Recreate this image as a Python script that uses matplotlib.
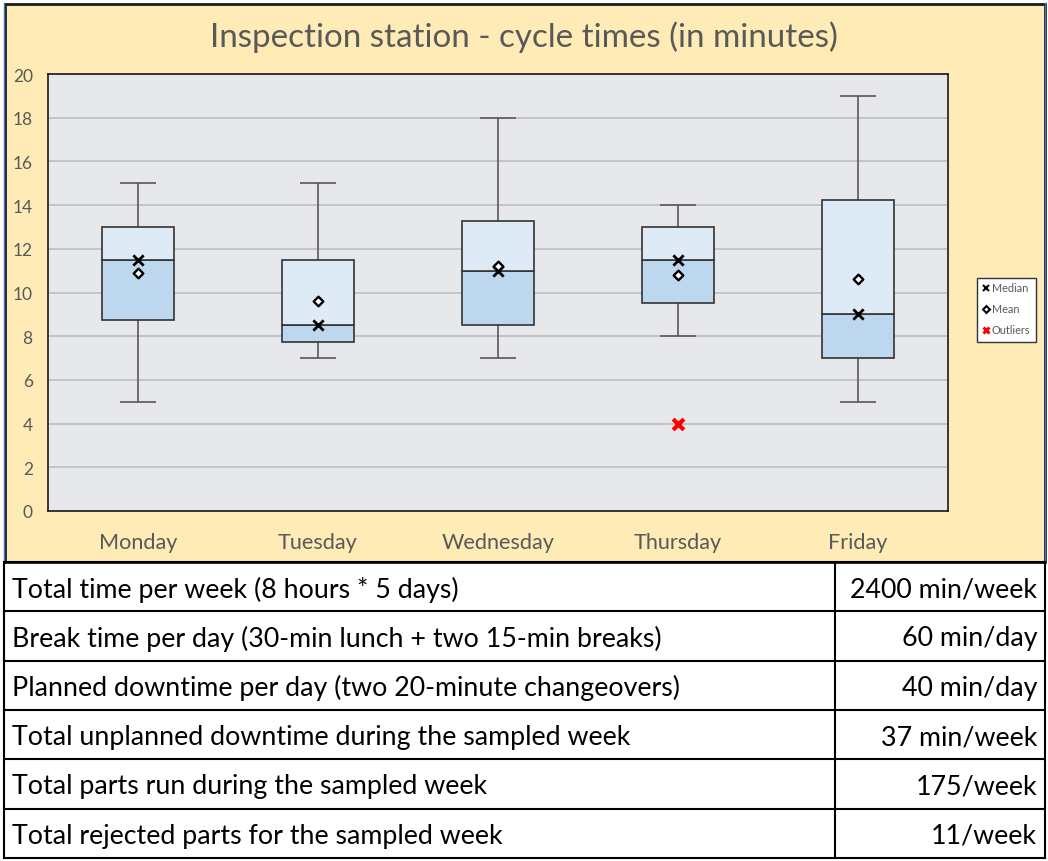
import matplotlib; matplotlib.use("Agg")
import matplotlib.pyplot as plt
from matplotlib.patches import Rectangle
from matplotlib.lines import Line2D

plt.rcParams["font.family"] = ["Lato", "DejaVu Sans"]

# box plot data (minutes)
days = ["Monday", "Tuesday", "Wednesday", "Thursday", "Friday"]
whisk_lo = [5, 7, 7, 8, 5]
q1 = [8.75, 7.75, 8.5, 9.5, 7]
median = [11.5, 8.5, 11, 11.5, 9]
q3 = [13, 11.5, 13.25, 13, 14.25]
whisk_hi = [15, 15, 18, 14, 19]
mean = [10.9, 9.6, 11.2, 10.8, 10.6]
outlier_day = [4]
outlier_val = [4]

# table below the chart
row_labels = ["Total time per week (8 hours * 5 days)",
              "Break time per day (30-min lunch + two 15-min breaks)",
              "Planned downtime per day (two 20-minute changeovers)",
              "Total unplanned downtime during the sampled week",
              "Total parts run during the sampled week",
              "Total rejected parts for the sampled week"]
row_values = ["2400 min/week", "60 min/day", "40 min/day", "37 min/week", "175/week", "11/week"]

W, H = 1048, 862
fig = plt.figure(figsize=(W / 100, H / 100), dpi=100)
fig.patch.set_facecolor("white")

def fx(px): return px / W
def fy(py): return 1 - py / H

# yellow chart area
fig.patches.append(Rectangle((fx(5), fy(563)), fx(1040), 558 / H, transform=fig.transFigure,
                             facecolor="#FFEBB5", edgecolor="#1a1a1a", linewidth=2, zorder=0))
fig.lines.append(Line2D([fx(4), fx(4)], [fy(4), fy(563)], transform=fig.transFigure, color="#4472C4", lw=1))
fig.lines.append(Line2D([fx(1045), fx(1045)], [fy(4), fy(563)], transform=fig.transFigure, color="#4472C4", lw=1))

ax = fig.add_axes([fx(48), fy(512), (948 - 48) / W, (512 - 75) / H])
ax.set_zorder(2)
ax.set_facecolor("#E6E8EC")
for s in ax.spines.values():
    s.set_color("#1a1a1a"); s.set_linewidth(1.2)
ax.set_xlim(0.5, 5.5); ax.set_ylim(0, 20)
ax.set_yticks(range(0, 21, 2))
ax.yaxis.grid(True, color="#BDBDBD", linewidth=1.2)
ax.set_axisbelow(True)
ax.tick_params(length=0, colors="#595959")
ax.tick_params(axis="y", labelsize=12.5, pad=11)
ax.tick_params(axis="x", labelsize=15.6, pad=15)
ax.set_xticks(range(1, 6)); ax.set_xticklabels(days)

x = list(range(1, 6))
ax.vlines(x, whisk_lo, q1, color="#595959", lw=1.2, zorder=2)
ax.vlines(x, q3, whisk_hi, color="#595959", lw=1.2, zorder=2)
ax.hlines(whisk_lo, [i - 0.1 for i in x], [i + 0.1 for i in x], color="#595959", lw=1.2, zorder=2)
ax.hlines(whisk_hi, [i - 0.1 for i in x], [i + 0.1 for i in x], color="#595959", lw=1.2, zorder=2)
ax.bar(x, [m - a for m, a in zip(median, q1)], bottom=q1, width=0.4, color="#BDD7EE",
       edgecolor="#333333", linewidth=1.2, zorder=3)
ax.bar(x, [b - m for b, m in zip(q3, median)], bottom=median, width=0.4, color="#DEEBF7",
       edgecolor="#333333", linewidth=1.2, zorder=3)
ax.scatter(x, median, marker="x", s=55, color="black", linewidths=2, zorder=4)
ax.scatter(x, mean, marker="D", s=24, facecolor="white", edgecolor="black", linewidths=1.7, zorder=4)
ax.scatter(outlier_day, outlier_val, marker="x", s=60, color="#FF0000", linewidths=3, zorder=4)

fig.text(fx(524), fy(37), "Inspection station - cycle times (in minutes)", ha="center", va="center",
         fontsize=23.9, color="#595959")

# legend box
fig.patches.append(Rectangle((fx(977), fy(343)), fx(59), 64 / H, transform=fig.transFigure,
                             facecolor="white", edgecolor="#333333", linewidth=1, zorder=1))
leg_items = [("Median", "x", "black", "black"), ("Mean", "D", "white", "black"), ("Outliers", "x", "#FF0000", "#FF0000")]
for i, (lab, mk, fc, ec) in enumerate(leg_items):
    yy = fy(289 + i * 21)
    lw = 2.2 if lab == "Outliers" else 1.5
    fig.lines.append(Line2D([fx(986)], [yy], transform=fig.transFigure, marker=mk, markersize=4.5 if mk == "x" else 3.5,
                            markerfacecolor=fc, markeredgecolor=ec, markeredgewidth=lw, linestyle="none", zorder=2))
    fig.text(fx(992), yy, lab, ha="left", va="center", fontsize=7.8, color="#595959", zorder=2)

# table
row_top = 563
row_h = 49.3
tbl_bottom = row_top + row_h * len(row_labels)
for i in range(len(row_labels) + 1):
    yy = fy(row_top + i * row_h)
    fig.lines.append(Line2D([fx(4), fx(1045)], [yy, yy], transform=fig.transFigure, color="black", lw=1.5))
for xx in (4, 835, 1045):
    fig.lines.append(Line2D([fx(xx), fx(xx)], [fy(row_top), fy(tbl_bottom)], transform=fig.transFigure,
                            color="black", lw=1.5))
for i, (lab, val) in enumerate(zip(row_labels, row_values)):
    yy = fy(row_top + (i + 0.5) * row_h + 2)
    fig.text(fx(12), yy, lab, ha="left", va="center", fontsize=19.3, color="black")
    fig.text(fx(1037), yy, val, ha="right", va="center", fontsize=19.3, color="black")

fig.savefig("out.png", dpi=100)
